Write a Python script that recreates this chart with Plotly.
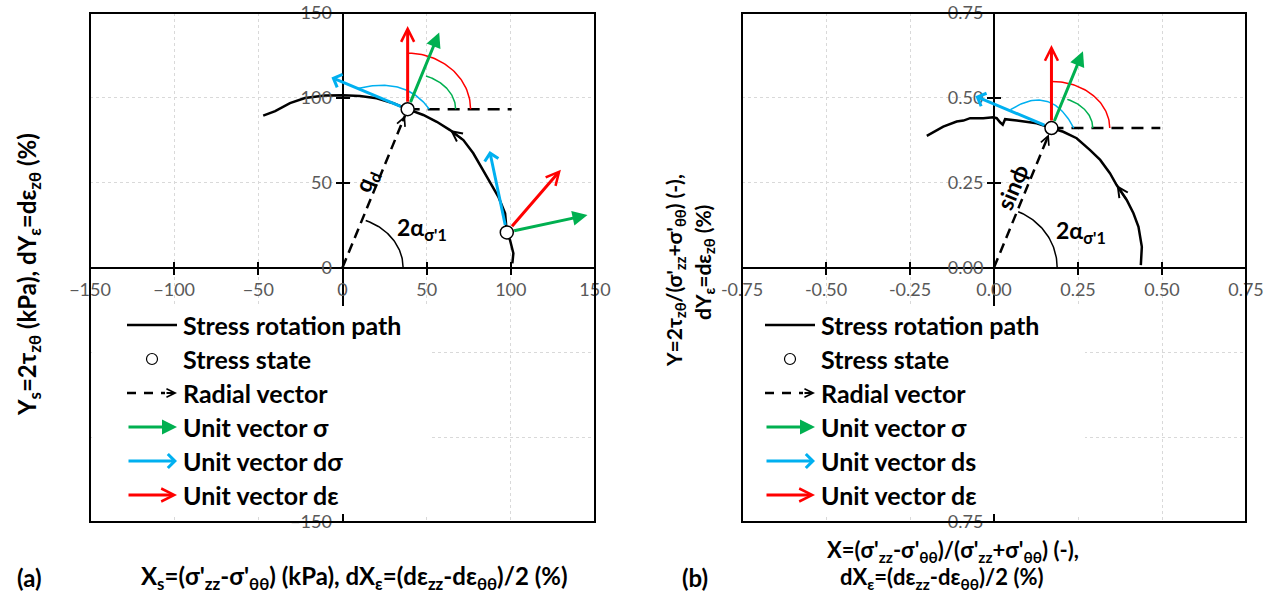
import numpy as np
import plotly.graph_objects as go

W, H = 1273, 595

# ---------------- data ----------------
# Stress rotation path, panel (a): Xs (kPa), Ys (kPa)
path_a_x = [100.9, 101.5, 99.5, 97.6, 96.6, 92.6, 85.7, 77.7, 71.8, 63.9, 56.0, 48.0,
            38.7, 30.2, 20.3, 10.4, 0.5, -10.4, -22.3, -31.2, -40.0, -47.1]
path_a_y = [2.5, 8.4, 16.2, 20.7, 31.9, 41.7, 53.5, 67.3, 75.1, 81.0, 85.9, 89.9,
            93.3, 96.8, 99.7, 101.1, 101.5, 101.4, 99.9, 96.9, 92.2, 89.5]

# Stress rotation path, panel (b): normalised X, Y
path_b_x = [0.437, 0.440, 0.430, 0.415, 0.395, 0.365, 0.345, 0.316, 0.286, 0.246, 0.206,
            0.171, 0.127, 0.068, 0.033, 0.026, 0.018, 0.008, -0.002, -0.032, -0.071,
            -0.091, -0.111, -0.151, -0.200]
path_b_y = [0.007, 0.061, 0.120, 0.160, 0.199, 0.243, 0.278, 0.317, 0.346, 0.381, 0.400,
            0.411, 0.425, 0.433, 0.437, 0.421, 0.428, 0.440, 0.443, 0.440, 0.440,
            0.433, 0.430, 0.415, 0.388]

# Stress states marked on the paths
state_a_x = [38.7, 97.6]
state_a_y = [93.3, 20.7]
state_b_x = [0.171]
state_b_y = [0.411]

# Directions of the unit vectors at each stress state (degrees from +X)
sigma_dir_a = [67.5, 12.0]
dsigma_dir_a = [157.5, 102.0]
deps_dir_a = [90.0, 49.0]
sigma_dir_b = [67.5]
ds_dir_b = [157.5]
deps_dir_b = [90.0]

# Tick values / labels
ticks_a = [-150, -100, -50, 0, 50, 100, 150]
ticks_b = [-0.75, -0.5, -0.25, 0.0, 0.25, 0.5, 0.75]
xticktext_b = ["-0.75", "-0.50", "-0.25", "0.00", "0.25", "0.50", "0.75"]
yticktext_b = ["0.75", "-0.50", "-0.25", "0.00", "0.25", "0.50", "0.75"]

legend_a = ["Stress rotation path", "Stress state", "Radial vector",
            "Unit vector σ", "Unit vector dσ", "Unit vector dε"]
legend_b = ["Stress rotation path", "Stress state", "Radial vector",
            "Unit vector σ", "Unit vector ds", "Unit vector dε"]

# ---------------- styling ----------------
GREEN, BLUE, RED = "#00b050", "#00b0f0", "#ff0000"
FONT = "Lato"
TICKFONT = dict(family=FONT, size=18, color="#595959")

# panel frames in pixels
TOP, BOT = 13, 522
A_L, A_R = 90, 595
B_L, B_R = 742, 1246


def px(xp):
    return xp / W


def py(yp):
    return 1 - yp / H


def ellipse_arc(cx, cy, rx, ry, a0, a1, n=50):
    t = np.radians(np.linspace(a0, a1, n))
    return cx + rx * np.cos(t), cy + ry * np.sin(t)


def bezier(p0, c, p1, n=50):
    t = np.linspace(0, 1, n)[:, None]
    p = (1 - t) ** 2 * np.array(p0) + 2 * (1 - t) * t * np.array(c) + t ** 2 * np.array(p1)
    return p[:, 0], p[:, 1]


fig = go.Figure()
ann = []
shapes = []


def line_trace(x, y, xa, ya, color="black", width=1.5, dash=None):
    fig.add_trace(go.Scatter(x=list(x), y=list(y), mode="lines", xaxis=xa, yaxis=ya,
                             line=dict(color=color, width=width, dash=dash),
                             showlegend=False, hoverinfo="skip"))


def arrow(xref, yref, tip, tail, color, head, width, size, start=0):
    ann.append(dict(x=tip[0], y=tip[1], ax=tail[0], ay=tail[1], xref=xref, yref=yref,
                    axref=xref, ayref=yref, text="", showarrow=True, arrowhead=head,
                    arrowsize=size, arrowwidth=width, arrowcolor=color,
                    standoff=0, startstandoff=start))


def vec(xref, yref, x0, y0, ang, L, color, head, size):
    t = np.radians(ang)
    arrow(xref, yref, (x0 + L * np.cos(t), y0 + L * np.sin(t)), (x0, y0),
          color, head, 3, size, start=6)


def text(x, y, s, size, xref="paper", yref="paper", angle=0, xanchor="center"):
    ann.append(dict(x=x, y=y, xref=xref, yref=yref, showarrow=False, text=s,
                    textangle=angle, xanchor=xanchor, yanchor="middle",
                    font=dict(family=FONT, size=size, color="black")))


def panel(xr, yr, stx, sty, dirs, L, ref_end, arcs, alpha_r, label_pos,
          rad_label, rad_label_pos, path_x, path_y, path_arrow_i, cut):
    # 2α arc at origin
    ax_, ay_ = ellipse_arc(0, 0, alpha_r[0], alpha_r[1], 0, 67.5)
    line_trace(ax_, ay_, xr, yr, "black", 1.5)
    # radial vector to the first stress state
    q = np.hypot(stx[0], sty[0])
    th = np.arctan2(sty[0], stx[0])
    tip = ((q - cut) * np.cos(th), (q - cut) * np.sin(th))
    line_trace([0, tip[0]], [0, tip[1]], xr, yr, "black", 2.5, "10px,6px")
    back = ((q - 2.2 * cut) * np.cos(th), (q - 2.2 * cut) * np.sin(th))
    arrow(xr, yr, tip, back, "black", 5, 2, 0.85)
    # horizontal reference line from the first stress state
    line_trace([stx[0], ref_end], [sty[0], sty[0]], xr, yr, "black", 2.5, "12px,8px")
    # angle arcs at the first stress state
    g, r, b = arcs
    gx, gy = ellipse_arc(stx[0], sty[0], g[0], g[1], 0, dirs[0][0])
    line_trace(gx, gy, xr, yr, GREEN, 1.5)
    rx_, ry_ = ellipse_arc(stx[0], sty[0], r[0], r[1], 0, dirs[2][0])
    line_trace(rx_, ry_, xr, yr, RED, 1.5)
    bx, by = bezier((stx[0] + b[0][0], sty[0] + b[0][1]),
                    (stx[0] + b[1][0], sty[0] + b[1][1]),
                    (stx[0] + b[2][0], sty[0] + b[2][1]))
    line_trace(bx, by, xr, yr, BLUE, 1.5)
    # stress rotation path
    line_trace(path_x, path_y, xr, yr, "black", 2.5)
    i = path_arrow_i
    arrow(xr, yr, (path_x[i], path_y[i]), (path_x[i - 1], path_y[i - 1]), "black", 5, 2, 1.0)
    # stress states
    fig.add_trace(go.Scatter(x=stx, y=sty, mode="markers", xaxis=xr, yaxis=yr,
                             marker=dict(symbol="circle", size=13, color="white",
                                         line=dict(color="black", width=1.5)),
                             showlegend=False, hoverinfo="skip"))
    # unit vectors
    for k in range(len(stx)):
        vec(xr, yr, stx[k], sty[k], dirs[1][k], L, BLUE, 4, 0.9)
        vec(xr, yr, stx[k], sty[k], dirs[2][k], L, RED, 5, 0.85)
        vec(xr, yr, stx[k], sty[k], dirs[0][k], L, GREEN, 2, 1.0)
    # labels
    text(label_pos[0], label_pos[1], "<b>2α<sub>σ'1</sub></b>", 23, xr, yr)
    text(rad_label_pos[0], rad_label_pos[1], rad_label, 23, xr, yr, angle=-67)


# panel (a)
panel("x", "y", state_a_x, state_a_y,
      (sigma_dir_a, dsigma_dir_a, deps_dir_a), 49, 100.5,
      ((28.5, 21.2), (37.4, 33.0), ((-29.7, 12.2), (-1.1, 19.3), (12.9, 0.0))),
      (36, 30), (47, 23), "<b>q<sub>d</sub></b>", (14.6, 51),
      path_a_x, path_a_y, 9, 4.0)

# panel (b)
panel("x2", "y2", state_b_x, state_b_y,
      (sigma_dir_b, ds_dir_b, deps_dir_b), 0.245, 0.495,
      ((0.123, 0.0914), (0.1735, 0.1374), ((-0.122, 0.054), (-0.0018, 0.131), (0.0664, 0.0))),
      (0.188, 0.178), (0.259, 0.105), "<b>sinϕ</b>", (0.054, 0.237),
      path_b_x, path_b_y, 5, 0.02)

# invisible traces that carry the overlay axes used for the crossing tick marks
for xa, ya in (("x3", "y"), ("x", "y3"), ("x4", "y2"), ("x2", "y4")):
    fig.add_trace(go.Scatter(x=[None], y=[None], xaxis=xa, yaxis=ya, showlegend=False,
                             hoverinfo="skip"))


def main_axis(domain, rng, vals, ttext, pos):
    return dict(domain=domain, range=rng, tickvals=vals, ticktext=ttext, anchor="free",
                position=pos, showline=True, linecolor="black", linewidth=2,
                ticks="outside", ticklen=6, tickwidth=1.5, tickcolor="black",
                showgrid=True, gridcolor="#d9d9d9", griddash="dot", gridwidth=1,
                zeroline=False, tickfont=TICKFONT, fixedrange=True, automargin=False)


def tick_axis(over, rng, vals, pos):
    return dict(overlaying=over, range=rng, tickvals=vals, anchor="free", position=pos,
                showline=False, ticks="inside", ticklen=6, tickwidth=1.5, tickcolor="black",
                showticklabels=False, showgrid=False, zeroline=False, fixedrange=True,
                automargin=False)


ydom = [py(BOT), py(TOP)]
y0_pos = py((TOP + BOT) / 2)
xa_pos = px((A_L + A_R) / 2)
xb_pos = px((B_L + B_R) / 2)

fig.update_layout(
    width=W, height=H, margin=dict(l=0, r=0, t=0, b=0, pad=0, autoexpand=False),
    paper_bgcolor="white", plot_bgcolor="white", showlegend=False,
    xaxis=main_axis([px(A_L), px(A_R)], [-150, 150], ticks_a, None, y0_pos),
    yaxis=main_axis(ydom, [-150, 150], ticks_a, None, xa_pos),
    xaxis2=main_axis([px(B_L), px(B_R)], [-0.75, 0.75], ticks_b, xticktext_b, y0_pos),
    yaxis2=main_axis(ydom, [-0.75, 0.75], ticks_b, yticktext_b, xb_pos),
    xaxis3=tick_axis("x", [-150, 150], ticks_a, y0_pos),
    yaxis3=tick_axis("y", [-150, 150], ticks_a, xa_pos),
    xaxis4=tick_axis("x2", [-0.75, 0.75], ticks_b, y0_pos),
    yaxis4=tick_axis("y2", [-0.75, 0.75], ticks_b, xb_pos),
)

# legends: white panel, samples and labels
rows = [325, 359, 393, 427, 461, 495]
for (L0, labels, box_r) in ((127, legend_a, 430), (765, legend_b, 1085)):
    shapes.append(dict(type="rect", xref="paper", yref="paper", x0=px(L0 - 35), x1=px(box_r),
                       y0=py(514), y1=py(306), fillcolor="white", line=dict(width=0),
                       layer="above"))
    L1 = L0 + 50
    for i, lab in enumerate(labels):
        text(px(L1 + 4), py(rows[i]), "<b>%s</b>" % lab, 25, xanchor="left")
    # path sample
    shapes.append(dict(type="line", xref="paper", yref="paper", x0=px(L0), x1=px(L1),
                       y0=py(rows[0]), y1=py(rows[0]), line=dict(color="black", width=2.5),
                       layer="above"))
    # stress state sample
    shapes.append(dict(type="circle", xref="paper", yref="paper", xsizemode="pixel",
                       ysizemode="pixel", xanchor=px(L0 + 25), yanchor=py(rows[1]),
                       x0=-5.5, x1=5.5, y0=-5.5, y1=5.5, fillcolor="white",
                       line=dict(color="black", width=1.2), layer="above"))
    # radial vector sample
    shapes.append(dict(type="line", xref="paper", yref="paper", x0=px(L0), x1=px(L1 - 12),
                       y0=py(rows[2]), y1=py(rows[2]),
                       line=dict(color="black", width=2.5, dash="9px,8px"), layer="above"))
    ann.append(dict(x=px(L1), y=py(rows[2]), xref="paper", yref="paper", ax=-12, ay=0,
                    text="", showarrow=True, arrowhead=5, arrowsize=0.85, arrowwidth=2,
                    arrowcolor="black", standoff=0))
    for i, (c, hd, sz) in zip((3, 4, 5), ((GREEN, 2, 1.0), (BLUE, 4, 0.9), (RED, 5, 0.85))):
        ann.append(dict(x=px(L1), y=py(rows[i]), xref="paper", yref="paper", ax=-50, ay=0,
                        text="", showarrow=True, arrowhead=hd, arrowsize=sz, arrowwidth=3,
                        arrowcolor=c, standoff=0))

# plot frames on top
for xr, yr in (("x", "y"), ("x2", "y2")):
    shapes.append(dict(type="rect", xref=xr + " domain", yref=yr + " domain", x0=0, x1=1,
                       y0=0, y1=1, line=dict(color="black", width=2), layer="above"))

# axis titles and panel tags
text(px(28), py(275),
     "<b>Y<sub>s</sub>=2τ<sub>zθ</sub> (kPa), dY<sub>ε</sub>=dε<sub>zθ</sub> (%)</b>",
     24, angle=-90)
text(px(354), py(577),
     "<b>X<sub>s</sub>=(σ'<sub>zz</sub>-σ'<sub>θθ</sub>) (kPa), "
     "dX<sub>ε</sub>=(dε<sub>zz</sub>-dε<sub>θθ</sub>)/2 (%)</b>", 24)
text(px(675), py(271),
     "<b>Y=2τ<sub>zθ</sub>/(σ'<sub>zz</sub>+σ'<sub>θθ</sub>) (-),</b>", 21, angle=-90)
text(px(704), py(262), "<b>dY<sub>ε</sub>=dε<sub>zθ</sub> (%)</b>", 21, angle=-90)
text(px(953), py(551),
     "<b>X=(σ'<sub>zz</sub>-σ'<sub>θθ</sub>)/(σ'<sub>zz</sub>+σ'<sub>θθ</sub>) (-),</b>", 22)
text(px(942), py(578), "<b>dX<sub>ε</sub>=(dε<sub>zz</sub>-dε<sub>θθ</sub>)/2 (%)</b>", 22)
text(px(29), py(577), "<b>(a)</b>", 24)
text(px(695), py(577), "<b>(b)</b>", 24)

fig.update_layout(annotations=ann, shapes=shapes)
fig.write_html("out.html")
